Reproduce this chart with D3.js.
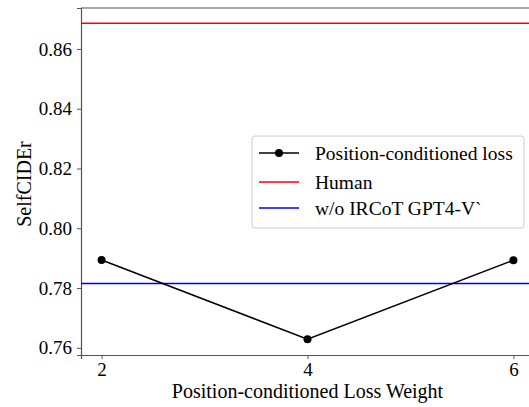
<!DOCTYPE html>
<html>
<head>
<meta charset="utf-8">
<script src="https://cdn.jsdelivr.net/npm/d3@7"></script>
<style>
  body { margin: 0; background: #fff; }
  svg { display: block; }
  text { font-family: "Liberation Serif", "DejaVu Serif", serif; fill: #000; }
</style>
</head>
<body>
<div id="chart"></div>
<script>
// data
const weights = [2, 4, 6];
const selfCider = [0.7894, 0.7629, 0.7893];
const humanScore = 0.8686;
const baselineScore = 0.7815;
const xTicks = [2, 4, 6];
const yTicks = [0.76, 0.78, 0.80, 0.82, 0.84, 0.86];
const legendNames = ["Position-conditioned loss", "Human", "w/o IRCoT GPT4-V`"];

const W = 529, H = 407;
const margin = { top: 8, right: -5, bottom: 52, left: 81 };
const width = W - margin.left - margin.right,
      height = H - margin.top - margin.bottom;

const svg = d3.select("#chart")
              .append("svg")
              .attr("width", W)
              .attr("height", H);

const g = svg.append("g")
             .attr("transform", `translate(${margin.left},${margin.top})`);

const x = d3.scaleLinear().domain([1.8, 6.2]).range([0, width]);
const y = d3.scaleLinear().domain([0.7576, 0.8737]).range([height, 0]);

// axes
const xAxis = g.append("g")
   .attr("transform", `translate(0,${height})`)
   .call(d3.axisBottom(x).tickValues(xTicks).tickFormat(d3.format("d")).tickSize(4).tickPadding(4));
const yAxis = g.append("g")
   .call(d3.axisLeft(y).tickValues(yTicks).tickFormat(d3.format(".2f")).tickSize(4).tickPadding(5));

[xAxis, yAxis].forEach(a => {
  a.attr("font-family", "Liberation Serif").attr("font-size", 19);
  a.select(".domain").attr("stroke", "#555").attr("stroke-width", 1.2);
  a.selectAll(".tick line").attr("stroke", "#555");
  a.selectAll(".tick text")
   .attr("fill", "#000")
   .style("font-family", "'Liberation Serif', serif")
   .style("font-size", "19px");
});

// top spine
g.append("line")
 .attr("x1", 0).attr("x2", width)
 .attr("y1", 0).attr("y2", 0)
 .attr("stroke", "#555").attr("stroke-width", 1.2);

// reference lines
g.append("line")
 .attr("x1", 0).attr("x2", width)
 .attr("y1", y(humanScore)).attr("y2", y(humanScore))
 .attr("stroke", "red").attr("stroke-width", 1.5);

g.append("line")
 .attr("x1", 0).attr("x2", width)
 .attr("y1", y(baselineScore)).attr("y2", y(baselineScore))
 .attr("stroke", "blue").attr("stroke-width", 1.5);

// main series
const pts = weights.map((w, i) => ({ w, v: selfCider[i] }));
g.append("path")
 .datum(pts)
 .attr("fill", "none")
 .attr("stroke", "black")
 .attr("stroke-width", 1.5)
 .attr("d", d3.line().x(d => x(d.w)).y(d => y(d.v)));

g.selectAll(".pt")
 .data(pts)
 .enter()
 .append("circle")
 .attr("class", "pt")
 .attr("cx", d => x(d.w))
 .attr("cy", d => y(d.v))
 .attr("r", 4)
 .attr("fill", "black");

// axis labels
svg.append("text")
   .attr("x", margin.left + x(4))
   .attr("y", 398)
   .attr("text-anchor", "middle")
   .style("font-size", "20px")
   .text("Position-conditioned Loss Weight");

svg.append("text")
   .attr("transform", `translate(31,184) rotate(-90)`)
   .attr("text-anchor", "middle")
   .style("font-size", "20px")
   .text("SelfCIDEr");

// legend
const legendColors = ["black", "red", "blue"];
const lg = svg.append("g").attr("transform", "translate(252,136)");
lg.append("rect")
  .attr("width", 272).attr("height", 92)
  .attr("rx", 3)
  .attr("fill", "white").attr("fill-opacity", 0.8)
  .attr("stroke", "#ccc");

const items = lg.selectAll(".legend")
  .data(legendNames)
  .enter()
  .append("g")
  .attr("class", "legend")
  .attr("transform", (d, i) => `translate(0,${[17, 46, 72][i]})`);

items.append("line")
  .attr("x1", 7).attr("x2", 47)
  .attr("stroke", (d, i) => legendColors[i])
  .attr("stroke-width", 1.5);

items.filter((d, i) => i === 0)
  .append("circle")
  .attr("cx", 27).attr("r", 4).attr("fill", "black");

items.append("text")
  .attr("x", 63)
  .attr("dy", "0.35em")
  .style("font-size", "19.5px")
  .text(d => d);
</script>
</body>
</html>
